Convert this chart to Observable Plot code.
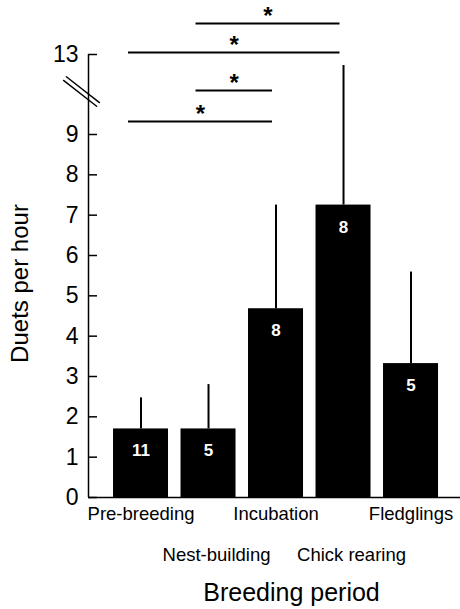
<!DOCTYPE html>
<html><head><meta charset="utf-8">
<script src="https://cdn.jsdelivr.net/npm/d3@7"></script>
<script src="https://cdn.jsdelivr.net/npm/@observablehq/plot@0.6"></script>
<style>body{margin:0;background:#fff}</style>
</head><body><div id="chart"></div>
<script>
const categories = ["Pre-breeding", "Nest-building", "Incubation", "Chick rearing", "Fledglings"];
const means = [1.7, 1.7, 4.68, 7.25, 3.32];
const upper = [2.47, 2.8, 7.25, 12.45, 5.59];
const sampleSizes = [11, 5, 8, 8, 5];
const yTicks = [0, 1, 2, 3, 4, 5, 6, 7, 8, 9, 13];
const comparisons = [[1, 3], [0, 3], [1, 2], [0, 2]];
const comparisonLevels = [14.55, 13.1, 11.2, 9.65];
const breakLevel = 11.1;

const bars = categories.map((c, i) => ({i, category: c, mean: means[i], upper: upper[i], n: sampleSizes[i]}));
const brackets = comparisons.map(([a, b], k) => ({a, b, y: comparisonLevels[k]}));
const xDomain = [-0.778, 4.733];
const font = "'Liberation Sans', Arial, Helvetica, sans-serif";

const breakShape = {
  draw(context, l) {
    context.moveTo(-2.3, l / 2); context.lineTo(-2.3, -l / 2);
    context.moveTo(2.3, l / 2); context.lineTo(2.3, -l / 2);
  }
};

const chart = Plot.plot({
  width: 460, height: 609,
  marginLeft: 88, marginRight: 0, marginTop: 54, marginBottom: 112,
  style: {fontFamily: font, background: "white", color: "black"},
  x: {type: "linear", domain: xDomain, axis: null},
  y: {type: "linear", domain: [0, 9, 13], range: [497, 134, 54], axis: null},
  marks: [
    Plot.rectY(bars, {x1: d => d.i - 0.5, x2: d => d.i + 0.5, y1: 0, y2: "mean", fill: "black", insetLeft: 6.25, insetRight: 6.25}),
    Plot.ruleX(bars, {x: "i", y1: "mean", y2: "upper", stroke: "black", strokeWidth: 2}),
    Plot.text(bars, {x: "i", y: "mean", text: "n", dy: 22, fill: "white", fontWeight: "bold", fontSize: 17}),
    Plot.ruleY([0], {stroke: "black", strokeWidth: 1.5}),
    Plot.ruleX([xDomain[0]], {y1: 0, y2: 13, stroke: "black", strokeWidth: 1.5}),
    Plot.axisY(yTicks, {anchor: "left", tickSize: -9, tickPadding: 19, fontSize: 23, strokeWidth: 1.5, tickFormat: d => String(d)}),
    Plot.vector([breakLevel], {x: () => xDomain[0], y: d => d, length: 42, rotate: -52, anchor: "start", dx: -7, dy: -1, shape: breakShape, stroke: "black", strokeWidth: 1.4}),
    Plot.ruleY(brackets, {y: "y", x1: "a", x2: "b", insetLeft: -12.5, insetRight: 3.5, stroke: "black", strokeWidth: 2.2}),
    Plot.text(brackets, {x: d => (d.a + d.b) / 2, y: "y", text: () => "*", dx: -8, dy: -7, fontSize: 24, fontWeight: "bold"}),
    Plot.text(bars.filter(d => d.i % 2 === 0), {x: "i", y: () => 0, text: "category", dy: 17, fontSize: 18.5}),
    Plot.text(bars.filter(d => d.i % 2 === 1), {x: "i", y: () => 0, text: "category", dy: 58, dx: 8, fontSize: 18.5}),
    Plot.text(["Duets per hour"], {frameAnchor: "left", textAnchor: "middle", lineAnchor: "middle", rotate: -90, dx: -68, dy: 7.5, fontSize: 24}),
    Plot.text(["Breeding period"], {frameAnchor: "bottom", textAnchor: "middle", lineAnchor: "middle", dx: 17, dy: 95, fontSize: 25})
  ]
});
document.getElementById("chart").appendChild(chart);
</script>
</body></html>
